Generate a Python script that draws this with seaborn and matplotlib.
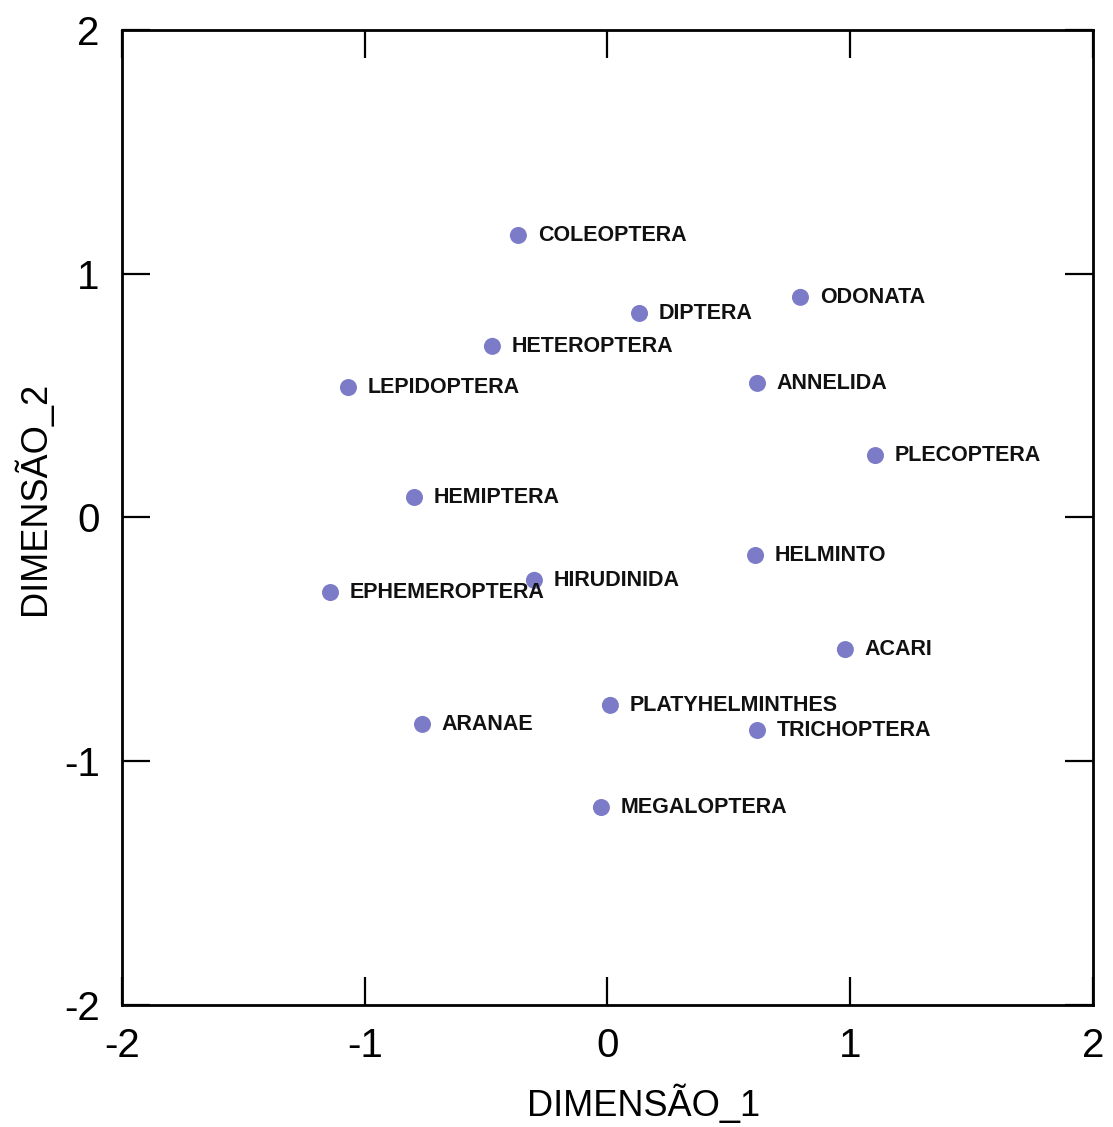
import matplotlib
matplotlib.use("Agg")
import matplotlib.pyplot as plt
import seaborn as sns
import pandas as pd

taxa = ["COLEOPTERA", "DIPTERA", "ODONATA", "HETEROPTERA", "LEPIDOPTERA",
        "ANNELIDA", "PLECOPTERA", "HEMIPTERA", "HELMINTO", "EPHEMEROPTERA",
        "HIRUDINIDA", "ACARI", "PLATYHELMINTHES", "ARANAE", "TRICHOPTERA",
        "MEGALOPTERA"]
dim1 = [-0.367, 0.132, 0.795, -0.474, -1.067, 0.618, 1.104, -0.795, 0.610,
        -1.141, -0.301, 0.980, 0.012, -0.762, 0.618, -0.025]
dim2 = [1.157, 0.837, 0.903, 0.702, 0.533, 0.550, 0.254, 0.082, -0.156,
        -0.308, -0.258, -0.542, -0.771, -0.849, -0.874, -1.190]
ticks = [-2, -1, 0, 1, 2]

df = pd.DataFrame({"DIMENSÃO_1": dim1, "DIMENSÃO_2": dim2, "taxon": taxa})

sns.set_theme(style="white")
plt.rcParams["font.family"] = ["Liberation Sans", "DejaVu Sans"]

fig = plt.figure(figsize=(11.13, 11.27), dpi=100)
ax = fig.add_axes([0.1096, 0.1083, 0.8724, 0.8651])

sns.scatterplot(data=df, x="DIMENSÃO_1", y="DIMENSÃO_2", ax=ax,
                color="#7B7BC8", s=150, edgecolor="none", marker="o")

for t, x, y in zip(taxa, dim1, dim2):
    ax.annotate(t, (x, y), xytext=(14, 0), textcoords="offset points",
                va="center", ha="left", fontsize=15.5, fontweight="bold",
                color="#111111")

ax.set_xlim(-2, 2)
ax.set_ylim(-2, 2)
ax.set_xticks(ticks)
ax.set_yticks(ticks)
ax.set_xticklabels([str(t) for t in ticks])
ax.set_yticklabels([str(t) for t in ticks])
ax.tick_params(axis="both", which="major", direction="in", length=20, width=1.6,
               labelsize=29, pad=16, color="black", labelcolor="black",
               top=True, right=True, bottom=True, left=True)
for sp in ax.spines.values():
    sp.set_visible(True)
    sp.set_linewidth(2)
    sp.set_color("black")

ax.set_xlabel("DIMENSÃO_1", fontsize=26, color="black")
ax.set_ylabel("DIMENSÃO_2", fontsize=26, color="black")
ax.xaxis.set_label_coords(0.537, -0.082)
ax.yaxis.set_label_coords(-0.071, 0.52)

fig.savefig("out.png", dpi=100, facecolor="white")
